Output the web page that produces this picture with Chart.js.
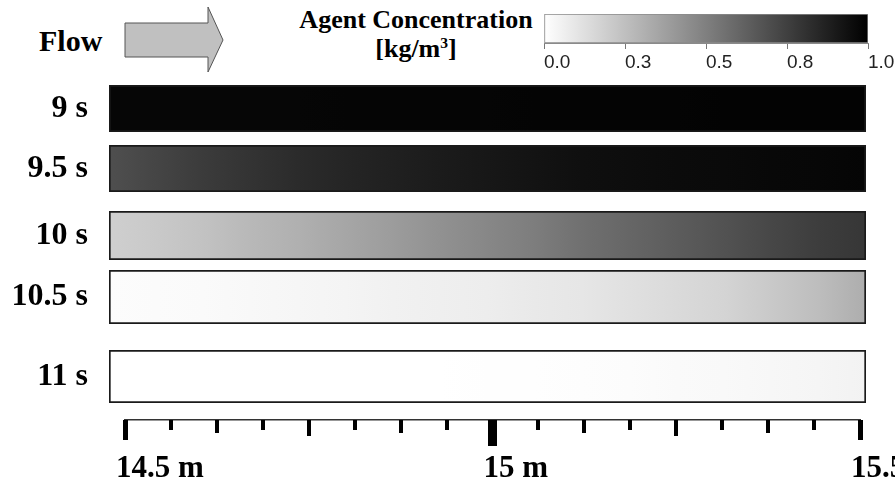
<!DOCTYPE html>
<html>
<head>
<meta charset="utf-8">
<script src="https://cdn.jsdelivr.net/npm/chart.js@4.4.1/dist/chart.umd.min.js"></script>
<style>
  html, body { margin: 0; padding: 0; background: #fff; }
  #stage { position: relative; width: 895px; height: 490px; overflow: hidden; background: #fff; }
  #stage canvas { position: absolute; }
  .txt { position: absolute; font-family: 'Liberation Serif', 'Times New Roman', serif; font-weight: bold; color: #000; white-space: nowrap; }
  .txt sup { font-size: 60%; vertical-align: 0.55em; line-height: 0; }
</style>
</head>
<body>
<div id="stage">
  <div class="txt" style="left:39px; top:23px; font-size:30px; line-height:36px;">Flow</div>
  <svg style="position:absolute; left:0; top:0;" width="260" height="85">
    <polygon points="125,23 208,23 208,7 223,40 208,72 208,57 125,57"
             fill="#c0c0c0" stroke="#555" stroke-width="1"/>
  </svg>
  <div class="txt" style="left:276px; top:5px; width:280px; text-align:center; font-size:26px; line-height:29px;">Agent Concentration<br>[kg/m<sup>3</sup>]</div>
</div>

<script>
// Sample positions along the duct (m)
const positions = [14.5, 14.5625, 14.625, 14.6875, 14.75, 14.8125, 14.875, 14.9375,
                   15.0, 15.0625, 15.125, 15.1875, 15.25, 15.3125, 15.375, 15.4375, 15.5];

// Snapshot times
const timeLabels = ['9 s', '9.5 s', '10 s', '10.5 s', '11 s'];

// Agent concentration (kg/m^3) at each sample position, one array per snapshot
const conc9s   = [0.975, 0.976, 0.977, 0.978, 0.978, 0.979, 0.980, 0.981, 0.982, 0.983, 0.984, 0.985, 0.986, 0.987, 0.988, 0.988, 0.990];
const conc9_5s = [0.69, 0.73, 0.77, 0.80, 0.83, 0.855, 0.875, 0.895, 0.91, 0.925, 0.94, 0.948, 0.955, 0.962, 0.968, 0.974, 0.98];
const conc10s  = [0.19, 0.21, 0.24, 0.28, 0.31, 0.35, 0.39, 0.43, 0.47, 0.51, 0.56, 0.60, 0.64, 0.68, 0.72, 0.76, 0.79];
const conc10_5s = [0.01, 0.015, 0.02, 0.028, 0.035, 0.045, 0.053, 0.062, 0.07, 0.085, 0.10, 0.12, 0.145, 0.17, 0.21, 0.26, 0.32];
const conc11s  = [0.0, 0.0, 0.0, 0.0, 0.0, 0.0, 0.0, 0.001, 0.002, 0.004, 0.008, 0.013, 0.018, 0.024, 0.030, 0.040, 0.050];
const concRows = [conc9s, conc9_5s, conc10s, conc10_5s, conc11s];

// Distance axis labels (at 14.5, 15 and 15.5 m)
const distanceLabels = ['14.5 m', '15 m', '15.5 m'];

// Colour scale
const colorScaleRange = [0, 1];
const colorScaleTicks = [0, 0.25, 0.5, 0.75, 1];
const colorScaleTickLabels = ['0.0', '0.3', '0.5', '0.8', '1.0'];

// ---------------------------------------------------------------------------
const stage = document.getElementById('stage');
const SERIF = "'Liberation Serif', 'Times New Roman', serif";

// Row boxes on the page: top edge and height of each concentration band
const ROW_BOXES = [
  { top: 85,  h: 47 },
  { top: 145, h: 47 },
  { top: 211, h: 49 },
  { top: 270, h: 54 },
  { top: 350, h: 53 }
];

function grayFor(v) {
  const t = Math.max(0, Math.min(1, (v - colorScaleRange[0]) / (colorScaleRange[1] - colorScaleRange[0])));
  const c = Math.round(255 * (1 - t));
  return 'rgb(' + c + ',' + c + ',' + c + ')';
}

function addCanvas(left, top, w, h) {
  const c = document.createElement('canvas');
  c.width = w; c.height = h;
  c.style.left = left + 'px'; c.style.top = top + 'px';
  stage.appendChild(c);
  return c;
}

// Gradient along the x scale, with one colour stop per sample
function sampledGradient(chart, xs, values) {
  const { ctx, chartArea, scales } = chart;
  if (!chartArea) return '#888';
  const x = scales.x;
  const x0 = x.getPixelForValue(xs[0]);
  const x1 = x.getPixelForValue(xs[xs.length - 1]);
  if (!(x1 > x0)) return grayFor(values[0]);
  const g = ctx.createLinearGradient(x0, 0, x1, 0);
  xs.forEach((p, i) => {
    const off = Math.max(0, Math.min(1, (x.getPixelForValue(p) - x0) / (x1 - x0)));
    g.addColorStop(off, grayFor(values[i]));
  });
  return g;
}

// One horizontal band per snapshot time
concRows.forEach((values, i) => {
  const box = ROW_BOXES[i];
  const canvas = addCanvas(0, box.top, 895, box.h);
  new Chart(canvas, {
    type: 'bar',
    data: {
      labels: [timeLabels[i]],
      datasets: [{
        data: [[positions[0], positions[positions.length - 1]]],
        backgroundColor: ctx => sampledGradient(ctx.chart, positions, values),
        borderColor: '#1a1a1a',
        borderWidth: 2,
        borderSkipped: false,
        barPercentage: 1,
        categoryPercentage: 1
      }]
    },
    options: {
      indexAxis: 'y',
      responsive: false,
      animation: false,
      events: [],
      layout: { padding: { left: 0, right: 29, top: 0, bottom: 0 } },
      plugins: { legend: { display: false }, tooltip: { enabled: false } },
      scales: {
        x: { type: 'linear', min: 14.5, max: 15.5, display: false },
        y: {
          grid: { display: false, drawTicks: false },
          border: { display: false },
          ticks: { color: '#000', padding: 21, font: { family: SERIF, size: 32, weight: 'bold' } },
          afterFit(s) { s.width = 109; s.paddingTop = 0; s.paddingBottom = 0; }
        }
      }
    }
  });
});

// Distance axis with graded tick marks
const tickMarks = {
  id: 'tickMarks',
  afterDraw(chart) {
    const { ctx, scales: { x } } = chart;
    const y0 = x.top;
    ctx.save();
    ctx.fillStyle = '#000';
    positions.forEach((p, i) => {
      const px = x.getPixelForValue(p);
      let len = 10, w = 4;
      if (i === 8) { len = 26; w = 9; }
      else if (i % 8 === 0) { len = 20; w = 5; }
      else if (i % 4 === 0) { len = 16; w = 4; }
      else if (i % 2 === 0) { len = 13; w = 4; }
      ctx.fillRect(Math.round(px - w / 2), y0, w, len);
    });
    ctx.restore();
  }
};

const axisCanvas = addCanvas(0, 400, 895, 90);
new Chart(axisCanvas, {
  type: 'scatter',
  data: { datasets: [{ data: [] }] },
  options: {
    responsive: false,
    animation: false,
    events: [],
    layout: { padding: { left: 125, right: 35, top: 0, bottom: 0 } },
    plugins: { legend: { display: false }, tooltip: { enabled: false } },
    scales: {
      x: {
        type: 'linear', position: 'bottom', min: 14.5, max: 15.5,
        afterBuildTicks(s) { s.ticks = positions.map(v => ({ value: v })); },
        ticks: {
          autoSkip: false, maxRotation: 0, align: 'start', labelOffset: -9, padding: 30,
          color: '#000', font: { family: SERIF, size: 31, weight: 'bold' },
          callback(v, idx) { return idx % 8 === 0 ? distanceLabels[idx / 8] : ''; }
        },
        grid: { display: false, drawTicks: false },
        border: { display: true, color: '#333', width: 1.5 },
        afterFit(s) { s.height = 70; s.paddingLeft = 0; s.paddingRight = 0; }
      },
      y: { display: false, min: 0, max: 1 }
    }
  },
  plugins: [tickMarks]
});

// Colour scale bar
const cbCanvas = addCanvas(530, 0, 365, 80);
new Chart(cbCanvas, {
  type: 'bar',
  data: {
    labels: ['scale'],
    datasets: [{
      data: [[colorScaleRange[0], colorScaleRange[1]]],
      backgroundColor: ctx => sampledGradient(ctx.chart, colorScaleRange, colorScaleRange),
      borderColor: '#8a8a8a',
      borderWidth: 1,
      borderSkipped: false,
      barPercentage: 1,
      categoryPercentage: 1
    }]
  },
  options: {
    indexAxis: 'y',
    responsive: false,
    animation: false,
    events: [],
    layout: { padding: { left: 14, right: 27, top: 14, bottom: 0 } },
    plugins: { legend: { display: false }, tooltip: { enabled: false } },
    scales: {
      x: {
        type: 'linear', min: colorScaleRange[0], max: colorScaleRange[1],
        afterBuildTicks(s) { s.ticks = colorScaleTicks.map(v => ({ value: v })); },
        ticks: {
          autoSkip: false, maxRotation: 0, align: 'start', padding: 2,
          color: '#222', font: { family: "'Liberation Sans Narrow', 'Arial Narrow', sans-serif", size: 19 },
          callback(v, idx) { return colorScaleTickLabels[idx]; }
        },
        grid: { drawOnChartArea: false, drawTicks: true, tickLength: 6, color: '#777', lineWidth: 1 },
        border: { display: true, color: '#8a8a8a', width: 1 },
        afterFit(s) { s.height = 37; s.paddingLeft = 0; s.paddingRight = 0; }
      },
      y: { display: false }
    }
  }
});
</script>
</body>
</html>
